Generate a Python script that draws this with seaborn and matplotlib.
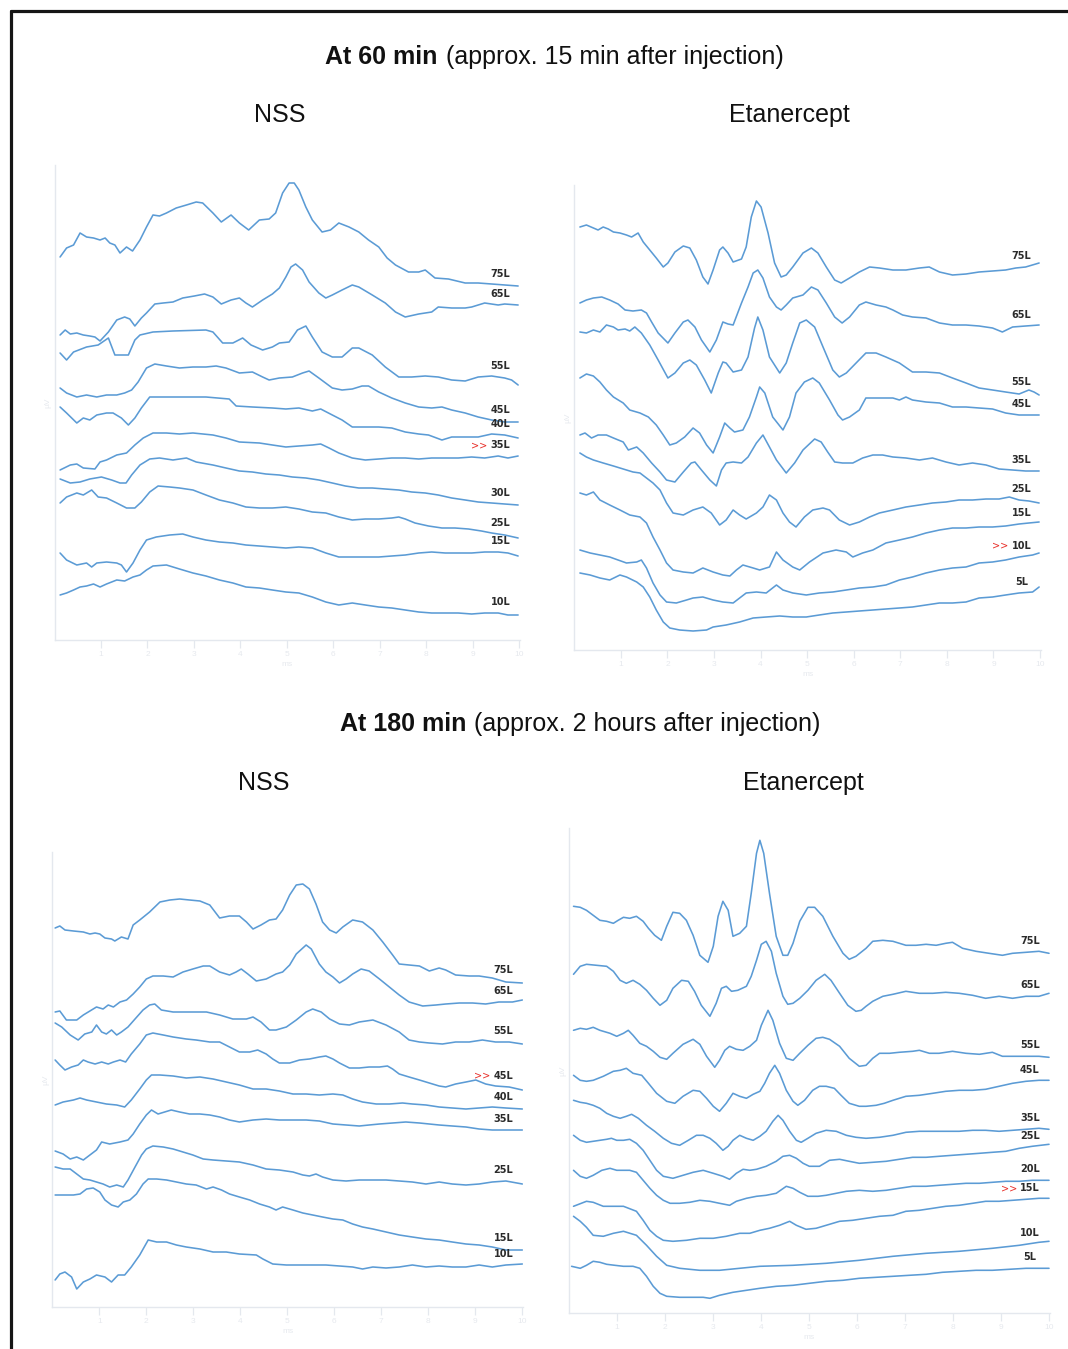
import matplotlib
matplotlib.use("Agg")
import matplotlib.pyplot as plt
from matplotlib.lines import Line2D
import numpy as np
import pandas as pd
import seaborn as sns

# ---------------------------------------------------------------------------
# ABR waveforms (time in ms, stacked amplitude in display units)
# ---------------------------------------------------------------------------

# At 60 min, NSS
nss60_levels = ["75L", "65L", "55L", "45L", "40L", "35L", "30L", "25L", "15L", "10L"]
nss60_threshold = "35L"
nss60_ms = [
    [0.12,0.26,0.41,0.55,0.69,0.84,0.98,1.09,1.19,1.30,1.41,1.55,1.68,1.84,1.98,2.12,2.26,2.41,2.62,2.84,
     3.05,3.19,3.41,3.59,3.80,3.98,4.18,4.41,4.62,4.76,4.91,5.05,5.16,5.26,5.41,5.55,5.76,5.94,6.12,6.34,
     6.55,6.76,6.98,7.16,7.34,7.62,7.84,7.98,8.19,8.48,8.84,9.12,9.41,9.98],
    [0.12,0.23,0.34,0.48,0.62,0.76,0.87,0.98,1.16,1.34,1.51,1.62,1.73,1.87,1.98,2.16,2.34,2.55,2.76,3.01,
     3.23,3.41,3.59,3.80,3.98,4.12,4.26,4.48,4.69,4.84,4.98,5.09,5.19,5.34,5.48,5.69,5.84,5.98,6.19,6.41,
     6.55,6.84,7.12,7.34,7.55,7.84,8.12,8.26,8.55,8.84,8.98,9.26,9.55,9.69,9.98],
    [0.12,0.26,0.41,0.69,0.94,1.16,1.30,1.59,1.73,1.84,2.12,2.55,3.26,3.41,3.62,3.84,4.05,4.23,4.48,4.69,
     4.84,5.05,5.23,5.41,5.55,5.76,5.98,6.19,6.41,6.55,6.84,7.12,7.41,7.69,7.98,8.26,8.55,8.84,9.12,9.41,
     9.69,9.84,9.98],
    [0.12,0.26,0.48,0.69,0.91,1.12,1.34,1.51,1.66,1.80,1.98,2.16,2.41,2.69,2.98,3.26,3.48,3.69,3.98,4.26,
     4.48,4.62,4.84,5.12,5.34,5.48,5.69,5.98,6.19,6.41,6.62,6.76,6.98,7.26,7.55,7.84,8.12,8.34,8.55,8.84,
     9.12,9.41,9.69,9.98],
    [0.12,0.26,0.48,0.62,0.76,0.91,1.12,1.26,1.44,1.59,1.73,1.87,2.05,2.26,2.69,3.26,3.76,3.91,4.26,4.69,
     4.98,5.26,5.55,5.73,5.98,6.19,6.41,6.69,6.98,7.26,7.55,7.84,8.05,8.34,8.55,8.84,9.12,9.41,9.69,9.98],
    [0.12,0.34,0.48,0.62,0.87,0.98,1.12,1.34,1.55,1.73,1.91,2.12,2.41,2.69,2.98,3.41,3.69,3.98,4.41,4.69,
     4.98,5.26,5.55,5.73,5.91,6.12,6.41,6.69,6.98,7.26,7.55,7.84,8.12,8.41,8.69,8.98,9.26,9.55,9.76,9.98],
    [0.12,0.34,0.55,0.76,1.01,1.23,1.41,1.54,1.66,1.84,2.05,2.26,2.55,2.84,3.05,3.41,3.69,3.98,4.26,4.55,
     4.84,5.12,5.41,5.69,5.98,6.26,6.55,6.84,7.12,7.41,7.69,7.98,8.26,8.55,8.84,9.12,9.41,9.69,9.98],
    [0.12,0.26,0.48,0.62,0.80,0.94,1.12,1.34,1.55,1.73,1.87,2.05,2.23,2.48,2.69,2.98,3.26,3.55,3.84,4.12,
     4.41,4.69,4.98,5.26,5.55,5.84,6.12,6.41,6.69,6.98,7.26,7.41,7.55,7.76,8.05,8.34,8.62,8.91,9.19,9.41,
     9.69,9.98],
    [0.12,0.26,0.48,0.69,0.80,0.91,1.12,1.34,1.44,1.55,1.69,1.84,1.98,2.19,2.48,2.76,2.98,3.26,3.55,3.84,
     4.12,4.41,4.69,4.98,5.26,5.55,5.84,6.12,6.41,6.69,6.98,7.26,7.55,7.84,8.12,8.41,8.69,8.98,9.26,9.55,
     9.76,9.98],
    [0.12,0.26,0.41,0.55,0.69,0.84,0.98,1.12,1.34,1.51,1.69,1.84,1.98,2.12,2.41,2.69,2.98,3.26,3.55,3.84,
     4.12,4.41,4.69,4.98,5.26,5.55,5.84,6.12,6.41,6.69,6.98,7.26,7.55,7.84,8.12,8.41,8.69,8.98,9.26,9.55,
     9.76,9.98],
]
nss60_amp = [
    [38.3,39.2,39.5,40.7,40.3,40.2,40.0,40.2,39.7,39.5,38.7,39.3,38.9,40.0,41.3,42.5,42.4,42.7,43.2,43.5,
     43.8,43.7,42.7,41.8,42.5,41.7,41.0,42.0,42.1,42.7,44.7,45.7,45.7,45.0,43.3,42.0,40.8,41.0,41.7,41.3,
     40.8,40.0,39.3,38.2,37.5,36.8,36.8,37.0,36.2,36.1,35.7,35.7,35.6,35.4],
    [30.5,31.0,30.6,30.7,30.5,30.4,30.3,29.9,30.8,32.0,32.3,32.1,31.4,32.2,32.7,33.6,33.7,33.8,34.2,34.4,
     34.6,34.3,33.6,34.0,34.2,33.7,33.3,34.0,34.6,35.2,36.3,37.3,37.6,37.0,35.8,34.7,34.2,34.5,35.0,35.5,
     35.3,34.5,33.7,32.8,32.3,32.6,32.8,33.3,33.2,33.2,33.3,33.7,33.5,33.6,33.5],
    [28.7,28.0,28.8,29.3,29.5,30.2,28.5,28.5,30.0,30.5,30.8,30.9,31.0,30.8,29.7,29.7,30.2,29.5,29.0,29.3,
     29.7,29.8,31.0,31.4,30.3,28.8,28.3,28.3,29.2,29.2,28.5,27.3,26.3,26.3,26.4,26.3,26.0,25.9,26.3,26.4,
     26.2,26.0,25.5],
    [25.2,24.7,24.3,24.5,24.3,24.5,24.5,24.7,25.0,25.8,27.2,27.6,27.4,27.2,27.3,27.3,27.4,27.2,26.7,26.8,
     26.3,26.0,26.2,26.3,26.7,26.9,26.2,25.2,25.0,25.1,25.4,25.4,24.8,24.2,23.7,23.3,23.2,23.3,23.0,22.7,
     22.3,22.0,21.8,21.8],
    [23.3,22.7,21.7,22.2,22.0,22.5,22.7,22.7,22.2,21.5,22.2,23.2,24.3,24.3,24.3,24.3,24.1,23.4,23.3,23.2,
     23.1,23.2,22.9,23.1,22.5,22.0,21.3,21.3,21.3,21.2,20.8,20.6,20.5,20.0,20.3,20.3,20.3,20.6,20.5,20.2],
    [17.0,17.5,17.6,17.2,17.1,17.8,18.0,18.5,18.7,19.5,20.2,20.7,20.7,20.6,20.7,20.5,20.2,19.8,19.7,19.5,
     19.3,19.4,19.5,19.6,19.2,18.7,18.2,18.0,18.1,18.2,18.2,18.1,18.2,18.2,18.2,18.3,18.2,18.4,18.2,18.4],
    [16.1,15.7,15.8,16.1,16.3,16.0,15.7,15.7,16.5,17.5,18.1,18.2,18.0,18.2,17.8,17.5,17.2,16.9,16.8,16.6,
     16.5,16.3,16.2,16.0,15.7,15.4,15.2,15.2,15.1,15.0,14.8,14.7,14.5,14.2,14.0,13.8,13.7,13.6,13.5],
    [13.7,14.3,14.7,14.5,15.0,14.3,14.2,13.7,13.2,13.2,13.8,14.8,15.4,15.3,15.2,15.0,14.5,14.0,13.7,13.3,
     13.2,13.2,13.3,13.1,12.8,12.7,12.3,12.0,12.1,12.1,12.2,12.3,12.1,11.7,11.4,11.2,11.2,11.1,10.9,10.7,
     10.5,10.2],
    [8.7,8.0,7.5,7.7,7.3,7.7,7.8,7.7,7.5,6.8,7.7,9.0,10.0,10.3,10.5,10.6,10.3,10.0,9.8,9.7,
     9.5,9.4,9.3,9.2,9.3,9.2,8.7,8.3,8.3,8.3,8.3,8.4,8.5,8.7,8.8,8.7,8.7,8.7,8.8,8.8,
     8.7,8.4],
    [4.5,4.7,5.0,5.3,5.4,5.6,5.3,5.6,6.0,5.9,6.3,6.5,7.0,7.4,7.5,7.1,6.7,6.4,6.0,5.7,
     5.3,5.2,5.0,4.8,4.7,4.3,3.8,3.5,3.7,3.5,3.3,3.2,3.0,2.8,2.7,2.7,2.7,2.6,2.7,2.7,
     2.5,2.5],
]

# At 60 min, Etanercept
etan60_levels = ["75L", "65L", "55L", "45L", "35L", "25L", "15L", "10L", "5L"]
etan60_threshold = "10L"
etan60_ms = [
    [0.12,0.26,0.41,0.51,0.62,0.73,0.84,0.98,1.12,1.23,1.37,1.48,1.62,1.76,1.91,2.01,2.16,2.34,2.48,2.62,
     2.76,2.87,2.98,3.12,3.19,3.30,3.41,3.59,3.69,3.80,3.91,4.01,4.16,4.30,4.44,4.55,4.69,4.91,5.09,5.23,
     5.41,5.59,5.73,5.91,6.12,6.34,6.55,6.84,7.12,7.41,7.62,7.84,8.12,8.41,8.69,8.98,9.26,9.48,9.69,9.98],
    [0.12,0.26,0.41,0.59,0.76,0.94,1.09,1.26,1.44,1.55,1.66,1.80,2.01,2.16,2.34,2.44,2.59,2.73,2.91,3.05,
     3.19,3.30,3.41,3.59,3.73,3.84,3.94,4.05,4.19,4.34,4.44,4.55,4.69,4.91,5.09,5.23,5.41,5.59,5.75,5.91,
     6.12,6.26,6.48,6.69,6.84,7.05,7.26,7.55,7.84,8.12,8.41,8.69,8.98,9.19,9.41,9.69,9.98],
    [0.12,0.26,0.41,0.55,0.69,0.84,0.94,1.09,1.19,1.30,1.44,1.62,1.80,2.01,2.16,2.34,2.48,2.62,2.80,2.94,
     3.09,3.19,3.26,3.41,3.59,3.73,3.87,3.94,4.05,4.19,4.41,4.55,4.69,4.84,4.98,5.16,5.34,5.55,5.69,5.84,
     6.05,6.26,6.48,6.69,6.98,7.26,7.55,7.84,8.12,8.41,8.69,8.98,9.26,9.55,9.76,9.87,9.98],
    [0.12,0.26,0.41,0.55,0.69,0.84,1.05,1.19,1.41,1.59,1.76,1.91,2.05,2.19,2.37,2.55,2.69,2.84,2.98,3.12,
     3.23,3.34,3.44,3.62,3.76,3.91,3.98,4.09,4.26,4.48,4.62,4.76,4.94,5.12,5.26,5.48,5.66,5.76,5.91,6.12,
     6.26,6.55,6.84,6.98,7.12,7.26,7.55,7.84,8.12,8.41,8.69,8.98,9.26,9.55,9.98],
    [0.12,0.23,0.37,0.51,0.69,0.84,1.05,1.16,1.34,1.48,1.66,1.84,1.98,2.16,2.34,2.51,2.59,2.73,2.91,3.05,
     3.16,3.26,3.41,3.59,3.73,3.91,4.05,4.19,4.34,4.55,4.73,4.91,5.16,5.30,5.44,5.59,5.76,5.98,6.19,6.41,
     6.62,6.84,7.12,7.41,7.69,7.98,8.26,8.55,8.84,9.12,9.41,9.69,9.98],
    [0.12,0.26,0.41,0.62,0.84,0.98,1.12,1.26,1.41,1.55,1.69,1.84,1.98,2.12,2.34,2.55,2.76,2.94,3.12,3.26,
     3.41,3.55,3.69,3.91,4.05,4.19,4.34,4.48,4.62,4.76,4.94,5.12,5.34,5.48,5.69,5.91,6.12,6.34,6.55,6.84,
     7.12,7.41,7.69,7.98,8.26,8.55,8.84,9.12,9.34,9.55,9.76,9.98],
    [0.12,0.26,0.41,0.55,0.76,0.98,1.19,1.41,1.55,1.69,1.84,1.98,2.12,2.34,2.55,2.76,2.98,3.19,3.34,3.48,
     3.62,3.84,3.98,4.19,4.34,4.48,4.69,4.84,5.05,5.34,5.62,5.84,5.98,6.19,6.41,6.69,6.98,7.26,7.55,7.84,
     8.12,8.41,8.69,8.98,9.26,9.55,9.76,9.98],
    [0.12,0.34,0.55,0.76,0.94,1.12,1.34,1.44,1.55,1.69,1.84,1.98,2.19,2.41,2.55,2.76,2.98,3.19,3.41,3.55,
     3.69,3.91,4.12,4.34,4.48,4.69,4.98,5.26,5.55,5.84,6.12,6.41,6.69,6.98,7.26,7.55,7.84,8.12,8.41,8.69,
     8.98,9.26,9.55,9.84,9.98],
    [0.12,0.34,0.55,0.76,0.98,1.12,1.34,1.48,1.62,1.76,1.91,2.05,2.26,2.55,2.84,2.98,3.26,3.55,3.84,4.12,
     4.41,4.69,4.98,5.26,5.55,5.84,6.12,6.41,6.69,6.98,7.26,7.55,7.84,8.12,8.41,8.69,8.98,9.26,9.55,9.84,
     9.98],
]
etan60_amp = [
    [42.3,42.5,42.2,42.0,42.3,42.1,41.8,41.7,41.5,41.3,41.7,40.8,40.0,39.2,38.3,38.7,39.8,40.4,40.2,39.0,
     37.3,36.6,38.0,40.0,40.3,39.7,38.8,39.1,40.3,43.3,44.9,44.3,41.7,38.7,37.3,37.5,38.3,39.7,40.2,39.7,
     38.3,37.0,36.7,37.2,37.8,38.3,38.2,38.0,38.0,38.2,38.3,37.8,37.5,37.6,37.8,37.9,38.0,38.2,38.3,38.7],
    [34.7,35.0,35.2,35.3,35.0,34.6,34.0,33.9,34.0,33.7,32.8,31.7,30.7,31.7,32.8,33.0,32.3,31.0,29.8,31.0,
     32.8,32.6,32.5,34.7,36.3,37.7,38.0,37.2,35.3,34.3,34.0,34.5,35.2,35.5,36.3,36.0,34.7,33.3,32.7,33.3,
     34.5,34.8,34.5,34.3,34.0,33.5,33.3,33.2,32.7,32.5,32.5,32.4,32.2,31.8,32.3,32.4,32.5],
    [31.8,31.7,32.0,31.8,32.5,32.3,32.0,32.1,31.9,32.3,31.7,30.5,29.0,27.2,27.7,28.7,29.0,28.5,27.0,25.7,
     27.7,28.8,28.7,27.8,28.0,29.3,32.2,33.3,32.0,29.3,27.7,28.7,30.7,32.7,33.0,32.3,30.3,28.0,27.3,27.7,
     28.7,29.7,29.7,29.3,28.7,27.8,27.8,27.7,27.2,26.7,26.2,26.0,25.8,25.6,26.0,25.8,25.5],
    [27.2,27.6,27.4,26.8,26.0,25.3,24.7,24.0,23.7,23.3,22.5,21.5,20.5,20.7,21.3,22.2,21.7,20.5,19.7,21.3,
     22.7,22.2,21.8,22.0,23.3,25.3,26.3,25.7,23.3,22.0,23.3,25.7,26.8,27.2,26.7,25.0,23.5,23.0,23.3,24.0,
     25.2,25.2,25.2,25.0,25.3,25.0,24.8,24.7,24.3,24.3,24.2,24.1,23.7,23.5,23.5],
    [21.5,21.7,21.2,21.5,21.5,21.2,20.8,20.0,20.3,19.7,18.7,17.8,17.0,16.8,17.8,18.7,18.8,18.0,17.0,16.4,
     18.0,18.7,18.8,18.7,19.3,20.7,21.5,20.3,19.0,17.7,18.7,20.0,21.1,20.8,19.8,18.8,18.7,18.7,19.2,19.5,
     19.5,19.3,19.2,19.0,19.2,18.8,18.5,18.7,18.5,18.1,18.0,17.9,17.9],
    [19.7,19.3,19.0,18.7,18.4,18.2,18.0,17.8,17.7,17.2,16.7,16.0,14.7,13.7,13.5,14.0,14.3,13.7,12.5,13.0,
     14.0,13.5,13.1,13.7,14.3,15.5,15.0,13.7,12.8,12.3,13.3,14.0,14.2,14.0,13.0,12.5,12.8,13.3,13.7,14.0,
     14.3,14.5,14.7,14.8,15.0,15.0,15.1,15.1,15.3,15.0,14.9,14.7],
    [15.7,15.5,15.8,15.0,14.5,14.0,13.5,13.3,12.7,11.3,10.0,8.7,8.0,7.8,7.7,8.2,7.8,7.5,7.4,8.0,
     8.5,8.2,8.0,8.3,9.8,9.0,8.3,8.0,8.8,9.7,10.0,9.8,9.3,9.7,10.0,10.7,11.0,11.3,11.7,12.0,
     12.2,12.2,12.3,12.3,12.4,12.6,12.7,12.8],
    [10.0,9.7,9.5,9.3,9.0,8.7,8.8,9.0,8.2,6.7,5.5,4.8,4.7,5.0,5.2,5.3,5.0,4.8,4.7,5.2,
     5.7,5.8,5.7,6.5,6.0,5.7,5.5,5.7,5.8,6.0,6.2,6.3,6.5,7.0,7.3,7.7,8.0,8.2,8.3,8.7,
     8.8,9.0,9.3,9.5,9.7],
    [7.7,7.5,7.2,7.0,7.5,7.3,6.8,6.3,5.3,4.0,2.8,2.2,2.0,1.9,2.0,2.3,2.5,2.8,3.2,3.3,
     3.4,3.3,3.3,3.5,3.7,3.8,3.9,4.0,4.1,4.2,4.3,4.5,4.7,4.7,4.8,5.2,5.3,5.5,5.7,5.8,
     6.3],
]

# At 180 min, NSS
nss180_levels = ["75L", "65L", "55L", "45L", "40L", "35L", "25L", "15L", "10L"]
nss180_threshold = "45L"
nss180_ms = [
    [0.06,0.16,0.27,0.45,0.66,0.80,0.91,1.01,1.12,1.26,1.33,1.47,1.61,1.72,1.86,2.07,2.29,2.50,2.71,2.92,
     3.14,3.35,3.56,3.77,3.98,4.13,4.27,4.44,4.62,4.76,4.90,5.05,5.19,5.33,5.47,5.61,5.75,5.90,6.04,6.18,
     6.39,6.60,6.82,7.03,7.24,7.38,7.59,7.81,8.02,8.23,8.37,8.58,8.87,9.08,9.36,9.65,10.0],
    [0.06,0.16,0.30,0.52,0.66,0.80,0.94,1.08,1.19,1.30,1.44,1.58,1.72,1.86,2.00,2.14,2.36,2.57,2.78,2.99,
     3.21,3.35,3.56,3.77,3.91,4.02,4.16,4.34,4.55,4.76,4.90,5.05,5.19,5.40,5.51,5.68,5.82,5.97,6.11,6.25,
     6.39,6.57,6.74,6.96,7.17,7.38,7.59,7.88,8.16,8.37,8.66,8.94,9.22,9.50,9.79,10.0],
    [0.06,0.20,0.38,0.55,0.69,0.84,0.94,1.05,1.15,1.26,1.37,1.47,1.61,1.76,1.93,2.07,2.18,2.32,2.57,2.92,
     3.28,3.56,3.84,4.13,4.27,4.44,4.62,4.76,4.98,5.19,5.40,5.54,5.72,5.90,6.11,6.32,6.53,6.82,7.10,7.38,
     7.59,7.81,8.02,8.30,8.58,8.87,9.15,9.43,9.72,10.0],
    [0.06,0.16,0.27,0.41,0.55,0.66,0.76,0.91,1.05,1.19,1.30,1.44,1.56,1.68,1.86,2.00,2.14,2.36,2.57,2.85,
     3.06,3.35,3.56,3.77,3.98,4.20,4.37,4.55,4.69,4.83,5.05,5.26,5.47,5.68,5.82,5.97,6.11,6.32,6.53,6.74,
     6.96,7.13,7.24,7.38,7.59,7.81,8.02,8.23,8.37,8.58,8.80,9.01,9.22,9.43,9.72,10.0],
    [0.06,0.23,0.45,0.59,0.73,0.94,1.15,1.37,1.54,1.68,1.86,2.00,2.11,2.29,2.57,2.85,3.14,3.42,3.70,3.98,
     4.27,4.55,4.83,5.12,5.40,5.68,5.97,6.18,6.39,6.60,6.89,7.17,7.45,7.66,7.95,8.23,8.51,8.80,9.08,9.36,
     9.65,10.0],
    [0.06,0.23,0.38,0.52,0.66,0.80,0.94,1.05,1.22,1.44,1.61,1.72,1.86,2.00,2.11,2.25,2.39,2.53,2.71,2.92,
     3.14,3.35,3.56,3.77,3.98,4.27,4.55,4.83,5.12,5.40,5.68,5.97,6.25,6.53,6.74,6.96,7.24,7.52,7.81,8.02,
     8.23,8.51,8.80,9.08,9.36,9.65,10.0],
    [0.06,0.23,0.38,0.52,0.66,0.80,0.94,1.08,1.22,1.37,1.51,1.61,1.76,1.90,2.00,2.14,2.36,2.57,2.78,2.99,
     3.21,3.42,3.70,3.98,4.27,4.55,4.83,5.12,5.33,5.47,5.61,5.75,5.97,6.25,6.53,6.82,7.10,7.38,7.66,7.95,
     8.23,8.51,8.80,9.08,9.36,9.65,10.0],
    [0.06,0.23,0.45,0.59,0.73,0.87,1.01,1.12,1.26,1.40,1.51,1.65,1.79,1.93,2.04,2.22,2.43,2.64,2.85,3.06,
     3.28,3.42,3.60,3.77,3.98,4.20,4.41,4.62,4.76,4.90,5.12,5.33,5.54,5.75,5.97,6.18,6.39,6.60,6.82,7.10,
     7.38,7.66,7.95,8.23,8.51,8.80,9.08,9.36,9.65,10.0],
    [0.06,0.16,0.27,0.41,0.52,0.66,0.80,0.94,1.12,1.26,1.40,1.54,1.68,1.86,2.04,2.22,2.43,2.64,2.85,3.14,
     3.42,3.70,3.98,4.34,4.48,4.69,4.98,5.26,5.54,5.82,6.11,6.39,6.60,6.82,7.10,7.38,7.66,7.95,8.23,8.51,
     8.80,9.08,9.36,9.65,10.0],
]
nss180_amp = [
    [37.9,38.1,37.7,37.6,37.5,37.3,37.4,37.3,36.9,36.8,36.6,37.0,36.8,38.2,38.7,39.5,40.5,40.7,40.8,40.7,
     40.6,40.2,38.9,39.1,39.1,38.5,37.8,38.2,38.7,38.8,39.7,41.2,42.2,42.3,41.8,40.3,38.5,37.7,37.4,38.0,
     38.7,38.5,37.7,36.5,35.2,34.3,34.2,34.1,33.6,33.9,33.7,33.2,33.1,33.1,32.9,32.5,32.4],
    [29.5,29.6,28.7,28.7,29.2,29.6,30.0,29.8,30.2,30.0,30.5,30.7,31.3,32.0,32.8,33.1,33.1,33.0,33.5,33.8,
     34.1,34.1,33.5,33.2,33.5,33.8,33.3,32.6,32.8,33.3,33.5,34.2,35.3,36.2,35.8,34.3,33.5,33.0,32.4,32.8,
     33.3,33.8,33.6,32.8,32.0,31.2,30.5,30.1,30.2,30.3,30.4,30.4,30.3,30.5,30.5,30.7],
    [28.4,28.0,27.2,26.7,27.3,27.5,28.2,27.5,27.3,27.7,27.2,27.5,28.0,28.8,29.7,30.2,30.3,29.7,29.5,29.5,
     29.5,29.2,28.8,28.8,29.0,28.5,27.7,27.7,28.0,28.7,29.5,29.8,29.5,28.8,28.3,28.2,28.5,28.7,28.2,27.5,
     26.7,26.5,26.4,26.3,26.5,26.5,26.7,26.5,26.5,26.3],
    [24.7,24.2,23.7,24.0,24.2,24.7,24.5,24.3,24.5,24.3,24.5,24.7,24.5,25.3,26.3,27.2,27.4,27.2,27.0,26.8,
     26.7,26.5,26.5,26.0,25.5,25.5,25.7,25.3,24.8,24.4,24.4,24.7,24.8,25.0,25.1,24.8,24.4,23.9,23.9,24.0,
     24.0,24.1,23.8,23.3,23.0,22.7,22.4,22.1,22.0,22.3,22.5,22.7,22.3,22.1,22.0,21.7],
    [20.2,20.5,20.7,20.9,20.7,20.5,20.3,20.2,20.0,20.7,21.8,22.7,23.2,23.2,23.1,22.9,23.0,22.8,22.5,22.2,
     21.8,21.8,21.6,21.3,21.3,21.2,21.3,21.2,20.8,20.5,20.3,20.3,20.4,20.3,20.2,20.0,19.9,19.8,19.9,20.0,
     19.9,19.8],
    [15.6,15.3,14.8,15.0,14.7,15.2,15.7,16.5,16.3,16.5,16.7,17.3,18.3,19.2,19.7,19.3,19.5,19.7,19.5,19.3,
     19.3,19.2,19.0,18.7,18.5,18.7,18.8,18.7,18.7,18.7,18.6,18.3,18.2,18.1,18.2,18.3,18.4,18.5,18.4,18.3,
     18.2,18.1,18.0,17.8,17.7,17.7,17.7],
    [14.0,13.8,13.8,13.3,12.8,12.7,12.5,12.3,12.0,12.2,12.0,12.7,14.0,15.2,15.8,16.1,16.0,15.8,15.5,15.2,
     14.8,14.7,14.6,14.5,14.2,13.8,13.7,13.5,13.2,13.1,13.3,13.0,12.7,12.6,12.7,12.7,12.7,12.6,12.5,12.3,
     12.5,12.3,12.2,12.3,12.5,12.6,12.3],
    [11.2,11.2,11.2,11.3,11.8,11.9,11.5,10.7,10.2,10.0,10.5,10.7,11.3,12.3,12.8,12.8,12.7,12.5,12.3,12.2,
     11.8,12.0,11.7,11.3,11.0,10.7,10.3,10.0,9.7,10.0,9.7,9.4,9.2,9.0,8.8,8.7,8.3,8.0,7.8,7.5,
     7.2,7.0,6.8,6.7,6.5,6.3,6.2,6.0,5.7,5.7],
    [2.7,3.3,3.5,3.0,1.8,2.5,2.8,3.2,3.0,2.5,3.2,3.2,4.0,5.2,6.7,6.5,6.5,6.2,6.0,5.8,
     5.5,5.5,5.3,5.2,4.8,4.3,4.2,4.2,4.2,4.2,4.1,4.0,3.8,4.0,3.9,4.0,4.2,4.0,4.1,4.0,
     4.0,4.2,4.0,4.2,4.3],
]

# At 180 min, Etanercept
etan180_levels = ["75L", "65L", "55L", "45L", "35L", "25L", "20L", "15L", "10L", "5L"]
etan180_threshold = "15L"
etan180_ms = [
    [0.10,0.24,0.37,0.51,0.65,0.79,0.93,1.03,1.14,1.27,1.41,1.55,1.66,1.79,1.93,2.04,2.17,2.31,2.45,2.59,
     2.73,2.90,3.01,3.11,3.21,3.32,3.42,3.56,3.70,3.80,3.91,3.98,4.06,4.18,4.32,4.46,4.56,4.67,4.81,4.98,
     5.12,5.29,5.50,5.71,5.84,5.98,6.19,6.33,6.54,6.75,7.02,7.23,7.44,7.65,7.85,7.99,8.20,8.48,8.75,9.03,
     9.24,9.52,9.79,10.0],
    [0.10,0.24,0.37,0.58,0.79,0.93,1.07,1.20,1.34,1.48,1.62,1.76,1.90,2.04,2.17,2.35,2.49,2.62,2.76,2.94,
     3.07,3.18,3.28,3.39,3.52,3.70,3.80,3.91,4.01,4.11,4.22,4.32,4.46,4.56,4.67,4.81,4.98,5.15,5.33,5.46,
     5.64,5.81,5.98,6.09,6.19,6.33,6.54,6.75,7.02,7.30,7.58,7.85,8.13,8.41,8.68,8.96,9.24,9.52,9.79,10.0],
    [0.10,0.24,0.37,0.51,0.65,0.86,1.00,1.14,1.24,1.34,1.48,1.62,1.76,1.90,2.04,2.17,2.38,2.59,2.73,2.87,
     3.04,3.14,3.25,3.35,3.49,3.63,3.77,3.91,4.01,4.15,4.25,4.39,4.53,4.67,4.81,4.98,5.15,5.29,5.43,5.64,
     5.84,6.05,6.19,6.33,6.47,6.68,6.88,7.16,7.30,7.51,7.71,7.99,8.27,8.55,8.82,9.03,9.24,9.52,9.79,10.0],
    [0.10,0.24,0.37,0.51,0.72,0.93,1.07,1.20,1.34,1.52,1.66,1.83,2.04,2.21,2.38,2.59,2.73,2.87,3.01,3.14,
     3.28,3.42,3.56,3.70,3.84,3.98,4.08,4.18,4.29,4.39,4.53,4.67,4.77,4.91,5.08,5.22,5.36,5.53,5.67,5.84,
     6.05,6.19,6.40,6.57,6.75,7.02,7.30,7.58,7.85,8.13,8.41,8.68,8.96,9.24,9.52,9.79,10.0],
    [0.10,0.24,0.37,0.51,0.65,0.79,0.93,1.07,1.20,1.31,1.45,1.62,1.79,1.97,2.14,2.31,2.49,2.66,2.80,2.94,
     3.07,3.21,3.32,3.42,3.56,3.70,3.84,3.98,4.11,4.25,4.36,4.46,4.60,4.74,4.84,4.98,5.15,5.36,5.57,5.78,
     5.98,6.19,6.47,6.75,7.02,7.30,7.58,7.85,8.13,8.41,8.68,8.96,9.24,9.52,9.79,10.0],
    [0.10,0.24,0.37,0.51,0.65,0.79,0.89,1.00,1.14,1.27,1.41,1.55,1.69,1.83,1.97,2.17,2.38,2.59,2.80,3.01,
     3.21,3.35,3.49,3.63,3.77,3.91,4.11,4.32,4.46,4.60,4.74,4.88,5.01,5.22,5.43,5.64,5.84,6.05,6.33,6.61,
     6.88,7.16,7.44,7.71,7.99,8.27,8.55,8.82,9.10,9.38,9.65,10.0],
    [0.10,0.24,0.37,0.51,0.69,0.86,1.00,1.14,1.27,1.41,1.55,1.69,1.83,1.97,2.11,2.31,2.52,2.73,2.94,3.14,
     3.35,3.49,3.70,3.91,4.11,4.32,4.53,4.67,4.81,4.98,5.19,5.36,5.57,5.78,6.05,6.33,6.61,6.88,7.16,7.44,
     7.71,7.99,8.27,8.55,8.82,9.10,9.38,9.65,10.0],
    [0.10,0.37,0.51,0.72,0.93,1.14,1.41,1.55,1.69,1.83,1.97,2.17,2.45,2.73,3.01,3.28,3.56,3.77,3.98,4.18,
     4.39,4.60,4.74,4.94,5.15,5.36,5.64,5.91,6.19,6.47,6.75,7.02,7.30,7.58,7.85,8.13,8.41,8.68,8.96,9.24,
     9.52,9.79,10.0],
    [0.10,0.24,0.37,0.51,0.72,0.93,1.14,1.41,1.62,1.83,2.04,2.31,2.73,3.14,3.56,3.98,4.67,5.36,6.05,6.75,
     7.44,8.13,8.82,9.38,9.79,10.0],
    [0.06,0.24,0.37,0.51,0.65,0.79,0.96,1.14,1.34,1.48,1.62,1.76,1.90,2.04,2.31,2.59,2.80,2.94,3.14,3.42,
     3.70,3.98,4.32,4.67,5.01,5.36,5.71,6.05,6.40,6.75,7.09,7.44,7.78,8.13,8.48,8.82,9.17,9.52,10.0],
]
etan180_amp = [
    [40.7,40.6,40.3,39.8,39.3,39.2,39.0,39.3,39.6,39.5,39.7,39.2,38.5,37.8,37.3,38.7,40.1,40.0,39.3,37.8,
     35.8,35.1,36.7,39.7,41.2,40.3,37.7,38.0,38.7,42.0,46.0,47.3,46.0,42.0,37.7,35.8,35.8,37.0,39.2,40.6,
     40.6,39.7,37.7,36.0,35.4,35.7,36.5,37.2,37.3,37.2,36.8,36.8,36.9,36.8,37.0,37.1,36.5,36.2,36.0,35.8,
     36.0,36.1,36.2,36.0],
    [33.9,34.7,34.9,34.8,34.7,34.2,33.3,33.0,33.3,32.9,32.3,31.5,30.8,31.3,32.5,33.3,33.2,32.2,30.8,29.7,
     31.0,32.5,32.7,32.2,32.3,32.7,33.7,35.3,36.9,37.2,36.2,34.0,31.7,30.9,31.0,31.5,32.3,33.3,33.9,33.3,
     32.0,30.8,30.2,30.3,30.7,31.2,31.7,31.9,32.2,32.0,32.0,32.1,32.0,31.8,31.5,31.7,31.5,31.7,31.7,32.0],
    [28.3,28.5,28.4,28.6,28.3,28.0,27.7,28.0,28.3,27.8,27.0,26.7,26.2,25.6,25.4,26.0,26.9,27.4,26.9,25.7,
     24.6,25.3,26.3,26.7,26.4,26.3,26.7,27.3,28.8,30.3,29.3,27.0,25.5,25.3,26.0,26.8,27.5,27.6,27.4,26.7,
     25.5,24.7,24.8,25.5,26.0,26.0,26.1,26.2,26.3,26.0,26.0,26.2,26.0,25.9,26.1,25.7,25.7,25.7,25.7,25.6],
    [23.8,23.3,23.2,23.3,23.7,24.2,24.3,24.5,24.0,23.8,23.0,22.0,21.2,21.0,21.7,22.3,22.2,21.5,20.7,20.2,
     21.0,22.0,21.7,21.5,21.9,22.2,23.0,24.0,24.8,24.0,22.3,21.2,20.8,21.3,22.3,22.7,22.7,22.5,21.8,21.0,
     20.7,20.7,20.8,21.0,21.3,21.7,21.8,22.0,22.2,22.3,22.3,22.4,22.7,23.0,23.2,23.3,23.3],
    [21.3,21.1,21.0,20.8,20.5,20.0,19.7,19.5,19.7,19.9,19.5,18.8,18.2,17.5,17.0,16.8,17.3,17.8,17.8,17.5,
     17.0,16.3,16.7,17.3,17.8,17.5,17.3,17.7,18.2,19.2,19.8,19.3,18.2,17.3,17.1,17.5,18.0,18.3,18.2,17.8,
     17.6,17.5,17.6,17.8,18.1,18.2,18.2,18.2,18.2,18.3,18.3,18.2,18.3,18.4,18.5,18.4],
    [17.8,17.3,17.1,17.2,17.3,17.4,17.5,17.3,17.3,17.4,17.0,16.3,15.3,14.3,13.7,13.5,13.8,14.1,14.3,14.0,
     13.7,13.4,14.0,14.4,14.3,14.4,14.7,15.2,15.7,15.8,15.5,15.0,14.7,14.7,15.3,15.4,15.2,15.0,15.1,15.2,
     15.4,15.6,15.6,15.7,15.8,15.9,16.0,16.1,16.2,16.5,16.7,16.9],
    [14.3,13.7,13.5,13.8,14.3,14.5,14.3,14.3,14.3,14.1,13.3,12.5,11.8,11.3,11.0,11.0,11.1,11.3,11.2,11.0,
     10.8,11.2,11.5,11.7,11.8,12.0,12.7,12.5,12.1,11.7,11.7,11.8,12.0,12.2,12.3,12.2,12.3,12.5,12.7,12.7,
     12.8,12.9,13.0,13.0,13.1,13.2,13.2,13.3,13.3],
    [10.7,11.2,11.1,10.7,10.7,10.7,10.2,9.3,8.3,7.7,7.3,7.2,7.3,7.5,7.5,7.7,8.0,8.0,8.3,8.5,
     8.8,9.2,8.8,8.4,8.5,8.8,9.2,9.3,9.5,9.7,9.8,10.2,10.3,10.5,10.7,10.8,11.0,11.2,11.2,11.3,
     11.4,11.5,11.5],
    [9.7,9.2,8.6,7.8,7.7,8.0,8.2,7.8,6.8,5.7,4.8,4.5,4.3,4.3,4.5,4.7,4.8,5.0,5.3,5.7,
     6.0,6.2,6.5,6.8,7.1,7.2],
    [4.7,4.5,4.8,5.2,5.1,4.9,4.8,4.7,4.7,4.5,3.7,2.7,2.0,1.7,1.6,1.6,1.6,1.5,1.8,2.1,
     2.3,2.5,2.7,2.8,3.0,3.2,3.3,3.5,3.6,3.7,3.8,3.9,4.1,4.2,4.3,4.3,4.4,4.5,4.5],
]

# ---------------------------------------------------------------------------
# Styling
# ---------------------------------------------------------------------------
sns.set_theme(style="white")
plt.rcParams["font.family"] = ["Liberation Sans", "DejaVu Sans"]

TRACE_BLUE = "#5b9bd5"
AXIS_FAINT = "#e4e8ee"
TEXT_FAINT = "#e6e9ee"
LABEL_X = 9.6      # ms position of the level labels
LABEL_LIFT = 1.1   # labels sit just above their trace

W, H = 1068, 1349
fig = plt.figure(figsize=(W / 100, H / 100), dpi=100)


def fx(px):
    return px / W


def fy(py):
    return 1 - py / H


def to_frame(levels, ms, amp):
    parts = []
    for lev, t, a in zip(levels, ms, amp):
        assert len(t) == len(a), lev
        parts.append(pd.DataFrame({"level": lev, "ms": t, "amp": a}))
    return pd.concat(parts, ignore_index=True)


def draw_panel(rect, ylim, levels, ms, amp, threshold):
    ax = fig.add_axes(rect)
    df = to_frame(levels, ms, amp)
    sns.lineplot(data=df, x="ms", y="amp", units="level", estimator=None, sort=False,
                 color=TRACE_BLUE, linewidth=1.15, legend=False, ax=ax)
    for line in ax.get_lines():
        line.set_solid_joinstyle("round")
        line.set_solid_capstyle("round")
    ax.set_xlim(0, 10.02)
    ax.set_ylim(*ylim)
    ax.set_xticks(range(1, 11))
    ax.set_yticks([])
    ax.tick_params(axis="x", bottom=True, length=6, width=0.9, color=AXIS_FAINT,
                   labelcolor=TEXT_FAINT, labelsize=6, pad=2)
    ax.set_xlabel("ms", color=TEXT_FAINT, fontsize=6, labelpad=2)
    ax.set_ylabel("µV", color=TEXT_FAINT, fontsize=6, labelpad=2)
    sns.despine(ax=ax)
    for side in ("left", "bottom"):
        ax.spines[side].set_color(AXIS_FAINT)
        ax.spines[side].set_linewidth(1.0)
    for lev, t, a in zip(levels, ms, amp):
        y = float(np.interp(LABEL_X, t, a)) + LABEL_LIFT
        ax.text(LABEL_X, y, lev, ha="center", va="center", fontsize=7,
                fontweight="bold", color="#2b2b2b", family="DejaVu Sans")
        if lev == threshold:
            ax.annotate(">>", xy=(LABEL_X, y), xytext=(-13, 0), textcoords="offset pixels",
                        ha="right", va="center", fontsize=7, color="#e8302a",
                        family="DejaVu Sans")
    return ax


draw_panel([fx(54.5), 1 - 640 / H, 465.5 / W, 475 / H], (0, 47.5),
           nss60_levels, nss60_ms, nss60_amp, nss60_threshold)
draw_panel([fx(574.3), 1 - 650 / H, 466.7 / W, 465 / H], (0, 46.5),
           etan60_levels, etan60_ms, etan60_amp, etan60_threshold)
draw_panel([fx(52.3), 1 - 1307 / H, 471 / W, 455 / H], (0, 45.5),
           nss180_levels, nss180_ms, nss180_amp, nss180_threshold)
draw_panel([fx(568.7), 1 - 1313.3 / H, 481.3 / W, 485 / H], (0, 48.5),
           etan180_levels, etan180_ms, etan180_amp, etan180_threshold)

# Section headings and group names
TITLE_SIZE = 18
fig.text(fx(437), fy(57), "At 60 min", ha="right", va="center", fontsize=TITLE_SIZE,
         fontweight="bold", color="#111111")
fig.text(fx(446), fy(57), "(approx. 15 min after injection)", ha="left", va="center",
         fontsize=TITLE_SIZE, color="#111111")
fig.text(fx(466), fy(724), "At 180 min", ha="right", va="center", fontsize=TITLE_SIZE,
         fontweight="bold", color="#111111")
fig.text(fx(474), fy(724), "(approx. 2 hours after injection)", ha="left", va="center",
         fontsize=TITLE_SIZE, color="#111111")
for label, (cx, cy) in [("NSS", (280, 115)), ("Etanercept", (789, 115)),
                        ("NSS", (264, 783)), ("Etanercept", (803, 783))]:
    fig.text(fx(cx), fy(cy), label, ha="center", va="center", fontsize=TITLE_SIZE,
             color="#111111")

# Frame around the figure content (top and left edges)
frame_kw = dict(color="#151515", linewidth=2.3, transform=fig.transFigure)
fig.add_artist(Line2D([fx(11), fx(11)], [fy(11), 0], **frame_kw))
fig.add_artist(Line2D([fx(11), 1.0], [fy(11), fy(11)], **frame_kw))

fig.savefig("out.png", dpi=100, facecolor="white")
